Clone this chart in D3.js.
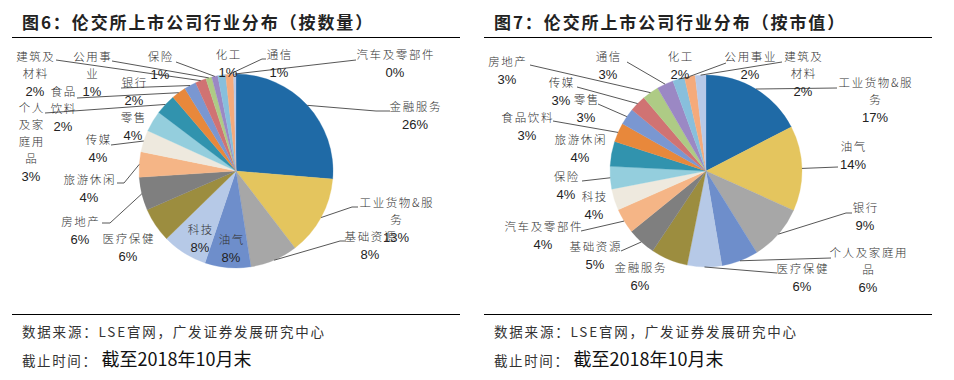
<!DOCTYPE html>
<html><head><meta charset="utf-8">
<script src="https://cdn.jsdelivr.net/npm/d3@7/dist/d3.min.js"></script>
<style>body{margin:0;background:#fff} svg{display:block}</style>
</head><body>
<svg id="c" width="954" height="380"></svg>
<script>
// ---------- data ----------
const countCategories = ["金融服务","工业货物&服务","基础资源","油气","科技","医疗保健","房地产","旅游休闲","传媒","零售","个人及家庭用品","食品饮料","银行","建筑及材料","公用事业","保险","化工","通信","汽车及零部件"];
const countValues = [26.2,13.2,7.9,7.6,7.5,5.7,5.5,4.2,3.6,3.5,3.4,2.4,2.0,1.8,1.0,1.0,1.3,1.3,0.4];

const capCategories = ["工业货物&服务","油气","银行","个人及家庭用品","医疗保健","金融服务","基础资源","汽车及零部件","科技","保险","旅游休闲","食品饮料","零售","传媒","房地产","通信","化工","公用事业","建筑及材料"];
const capValues = [17.4,14.3,9.4,6.2,5.8,6.2,4.8,4.2,3.6,3.8,4.2,3.2,2.8,2.8,2.8,2.8,2.0,1.8,1.8];

const chartTitles = ["图6：伦交所上市公司行业分布（按数量）","图7：伦交所上市公司行业分布（按市值）"];
const sourceText = "数据来源：LSE官网，广发证券发展研究中心";
const dateLabel = "截止时间：";
const dateText = "截至2018年10月末";

// ---------- style ----------
const palette = ["#1F6AA6","#E4C55E","#A7A7A7","#6E8ECB","#B6C9E7","#9C8D3F","#7F7F7F","#F5B586","#EEE9DE","#94CEDD","#3193AE","#E8883B","#7A97D1","#D07373","#AECB85","#9B88C4","#88BFDC","#F5AA7B","#B7C9E8"];

// label layout (position of label text, wrapped lines, leader anchor & stub)
const leftLayout = {
  "金融服务":{x:415,y:107,a:[390,111],s:-14},
  "工业货物&服务":{x:396,y:203,w:["工业货物&服","务"],a:[358,207],s:-6},
  "基础资源":{x:370,y:237,a:[346,241],s:-6},
  "油气":{x:231,y:240},
  "科技":{x:200,y:230},
  "医疗保健":{x:128,y:239},
  "房地产":{x:80,y:222,a:[102,223],s:8},
  "旅游休闲":{x:89,y:180,a:[117,183],s:7},
  "传媒":{x:98,y:140,a:[111,145],s:0},
  "零售":{x:133,y:118},
  "个人及家庭用品":{x:31,y:108,w:["个人","及家","庭用","品"],a:[45,113],s:0},
  "食品饮料":{x:63,y:92,w:["食品","饮料"],a:[77,98],s:0},
  "银行":{x:134,y:83,a:[121,88],s:0},
  "建筑及材料":{x:35,y:57,w:["建筑及","材料"],a:[56,60],s:0},
  "公用事业":{x:92,y:57,w:["公用事","业"],a:[112,61],s:0},
  "保险":{x:160,y:57,a:[176,62],s:0},
  "化工":{x:228,y:55},
  "通信":{x:279,y:55,a:[266,59],s:-4},
  "汽车及零部件":{x:395,y:55,a:[356,60],s:0}
};
const rightLayout = {
  "工业货物&服务":{x:875,y:83,w:["工业货物&服","务"],a:[837,88],s:0},
  "油气":{x:853,y:147,a:[838,167],s:0},
  "银行":{x:865,y:208,a:[852,213],s:-6},
  "个人及家庭用品":{x:868,y:253,w:["个人及家庭用","品"],a:[831,258],s:0},
  "医疗保健":{x:802,y:269,a:[777,273],s:0},
  "金融服务":{x:640,y:268},
  "基础资源":{x:595,y:247,a:[621,251],s:0},
  "汽车及零部件":{x:543,y:227,a:[581,231],s:0},
  "科技":{x:594,y:197},
  "保险":{x:566,y:177,a:[582,181],s:0},
  "旅游休闲":{x:580,y:140},
  "食品饮料":{x:527,y:118,a:[553,121],s:0},
  "零售":{x:586,y:100,a:[598,104],s:0},
  "传媒":{x:561,y:83,a:[577,87],s:0},
  "房地产":{x:507,y:62,a:[530,65],s:0},
  "通信":{x:608,y:57,a:[627,62],s:0},
  "化工":{x:680,y:57,a:[690,77],s:0},
  "公用事业":{x:750,y:57,a:[726,63],s:0},
  "建筑及材料":{x:803,y:57,w:["建筑及","材料"],a:[782,62],s:0}
};

const svg = d3.select("#c");
const cjk = "'Noto Sans CJK SC','Noto Sans CJK JP',sans-serif";
const latin = "'Liberation Sans',Arial,sans-serif";

function panel(ox, title, cats, vals, layout, cx, cy, r) {
  const g = svg.append("g");
  // title
  g.append("text").attr("x", ox + 22).attr("y", 29)
    .attr("font-family", cjk).attr("font-weight", 700).attr("font-size", 17)
    .attr("letter-spacing", 1.9).attr("fill", "#222").text(title);
  g.append("line").attr("x1", ox + 12).attr("x2", ox + 460).attr("y1", 37.5).attr("y2", 37.5)
    .attr("stroke", "#000").attr("stroke-width", 1.2);
  g.append("line").attr("x1", ox + 12).attr("x2", ox + 460).attr("y1", 314.5).attr("y2", 314.5)
    .attr("stroke", "#000").attr("stroke-width", 1.2);
  g.append("text").attr("x", ox + 22).attr("y", 337)
    .attr("font-family", cjk).attr("font-size", 13.5).attr("letter-spacing", 1.8)
    .attr("fill", "#333").text(sourceText);
  const t2 = g.append("text").attr("x", ox + 22).attr("y", 366).attr("font-family", cjk).attr("fill", "#333");
  t2.append("tspan").attr("font-size", 13.5).attr("letter-spacing", 1.6).text(dateLabel);
  t2.append("tspan").attr("font-size", 18).attr("fill", "#111").attr("dx", 4).text(dateText);

  const total = d3.sum(vals);
  const data = cats.map((c, i) => ({cat: c, v: vals[i], i}));
  const pie = d3.pie().sort(null).value(d => d.v);
  const arcs = pie(data);
  const arc = d3.arc().innerRadius(0).outerRadius(r);
  const edge = d3.arc().innerRadius(r).outerRadius(r);
  const color = d3.scaleOrdinal().domain(cats).range(palette);

  const pg = g.append("g").attr("transform", `translate(${cx},${cy})`);
  pg.selectAll("path").data(arcs).join("path")
    .attr("d", arc).attr("fill", d => color(d.data.cat))
    .attr("stroke", d => color(d.data.cat)).attr("stroke-width", 0.3);

  // leader lines
  arcs.forEach(d => {
    const L = layout[d.data.cat];
    if (!L || !L.a) return;
    const [px, py] = edge.centroid(d);
    const pts = [[cx + px, cy + py], [L.a[0] + (L.s || 0), L.a[1]], [L.a[0], L.a[1]]];
    g.append("path").attr("d", d3.line()(pts)).attr("fill", "none")
      .attr("stroke", "#444").attr("stroke-width", 0.9);
  });

  // labels
  arcs.forEach(d => {
    const L = layout[d.data.cat];
    if (!L) return;
    const lines = L.w || [d.data.cat];
    const pct = Math.round(d.data.v / total * 100) + "%";
    lines.forEach((ln, k) => {
      g.append("text").attr("x", L.x + 0.8).attr("y", L.y + k * 17).attr("dy", "0.36em")
        .attr("text-anchor", "middle").attr("font-family", cjk).attr("font-size", 11.5)
        .attr("font-weight", 300).attr("letter-spacing", 1.6).attr("fill", "#333").text(ln);
    });
    g.append("text").attr("x", L.x).attr("y", L.y + lines.length * 17).attr("dy", "0.36em")
      .attr("text-anchor", "middle").attr("font-family", latin).attr("font-size", 13)
      .attr("fill", "#222").text(pct);
  });
}

panel(0, chartTitles[0], countCategories, countValues, leftLayout, 236, 171, 97);
panel(472, chartTitles[1], capCategories, capValues, rightLayout, 706, 171, 96);
</script>
</body></html>
